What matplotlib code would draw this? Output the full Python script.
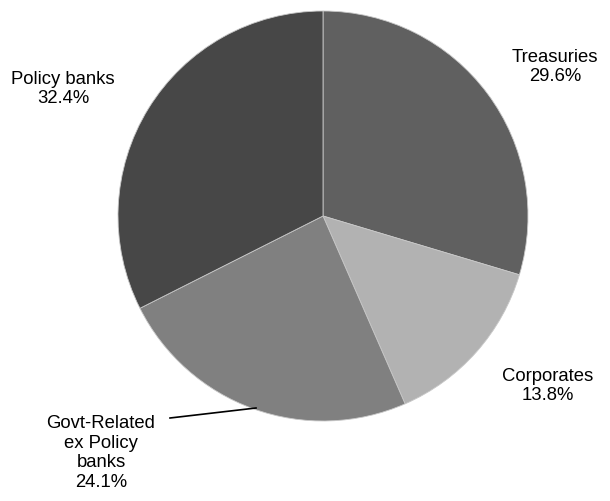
import matplotlib
matplotlib.use("Agg")
import matplotlib.pyplot as plt

# parts of the portfolio (%)
SECTEURS = ["Treasuries", "Corporates", "Govt-Related\nex Policy\nbanks", "Policy banks"]
PARTS = [29.6, 13.8, 24.1, 32.4]
COULEURS = ["#606060", "#b2b2b2", "#808080", "#474747"]

plt.rcParams["font.family"] = ["Liberation Sans", "DejaVu Sans"]

H = 501
fig = plt.figure(figsize=(6.10, 5.01), dpi=100)
ax = fig.add_axes([0, 0, 1, 1])

ax.pie(PARTS, colors=COULEURS, startangle=90, counterclock=False,
       center=(323, H - 216), radius=205, frame=True,
       wedgeprops=dict(edgecolor="#c8c8c8", linewidth=0.6))
ax.set_xlim(0, 610)
ax.set_ylim(0, H)
ax.set_aspect("equal")
ax.axis("off")

# labels (positions in pixels from top)
pos = [(555, 67), (548, 386), (101, 453), (63, 89)]
for nom, p, (x, y) in zip(SECTEURS, PARTS, pos):
    ax.text(x, H - y, f"{nom}\n{p:.1f}%", ha="center", va="center",
            fontsize=13.3, linespacing=1.22, color="black")

# leader line for Govt-Related
ax.plot([170, 256], [H - 418, H - 408], color="black", linewidth=1.2)

plt.savefig("out.png", dpi=100)
